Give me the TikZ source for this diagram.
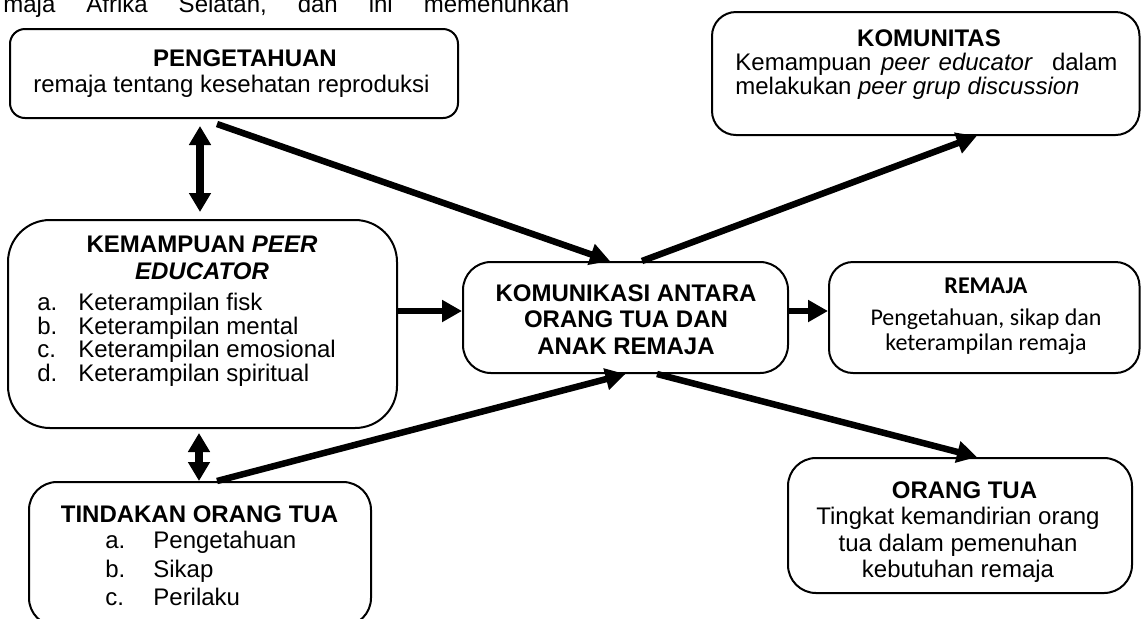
\documentclass[tikz,border=0pt]{standalone}
\usepackage{fontspec}
\setmainfont{Liberation Sans}
\newfontfamily\calibrifont{Carlito}
\usepackage{tikz}
\usetikzlibrary{arrows.meta,calc,fit}
\tikzset{
  framebox/.style={rectangle, draw=black, line width=1pt, inner sep=0pt},
  boxtext/.style={inner sep=0pt, align=center, anchor=north,
                  font=\fontsize{12}{13.5}\selectfont},
  listtext/.style={inner sep=0pt, align=left, anchor=north west,
                   font=\fontsize{12}{11.75}\selectfont},
  flowarrow/.style={-{Triangle[length=10pt,width=10.5pt]}, line width=3.25pt},
  dblarrow/.style={{Triangle[length=9.5pt,width=10.5pt]}-{Triangle[length=9.5pt,width=10.5pt]},
                   line width=4pt},
}

\begin{document}
\begin{tikzpicture}[x=0.5pt, y=-0.5pt]
    \useasboundingbox (0,0) rectangle (1141,618);
    \clip (0,0) rectangle (1141,618);
    % cut-off line of the page text above the figure
    \node[anchor=base west, inner sep=0pt, font=\fontsize{12}{13.5}\selectfont] (topline) at (3,12)
      {maja\hspace{15.5pt}Afrika\hspace{15.5pt}Selatan,\hspace{15.5pt}dan\hspace{15.5pt}ini\hspace{15.5pt}memenuhkan};
    % boxes
    \node[framebox, rounded corners=7.5pt, fit={(10,29) (458,118)}] (peng) {};
    \node[framebox, rounded corners=21pt, fit={(8,220) (397,428)}] (kem) {};
    \node[framebox, rounded corners=14pt, fit={(29,482) (371,626)}] (tind) {};
    \node[framebox, rounded corners=14pt, fit={(463,262) (788,373)}] (cen) {};
    \node[framebox, rounded corners=12pt, fit={(712,12) (1139.5,135)}] (kom) {};
    \node[framebox, rounded corners=12pt, fit={(829,262) (1139.5,373)}] (rem) {};
    \node[framebox, rounded corners=14pt, fit={(788,458) (1132,593)}] (ort) {};
    % texts
    \node[boxtext, font=\fontsize{12}{13}\selectfont] (pengText) at (231.5,49)
      {\hspace*{13.5pt}\textbf{PENGETAHUAN}\\remaja tentang kesehatan reproduksi};
    \node[boxtext, font=\fontsize{12}{13.5}\selectfont\bfseries] (kemTitle) at (202,236)
      {KEMAMPUAN \textit{PEER}\\\textit{EDUCATOR}};
    \node[listtext] (kemList) at (37,293)
      {\makebox[20.5pt][l]{a.}Keterampilan fisk\\
       \makebox[20.5pt][l]{b.}Keterampilan mental\\
       \makebox[20.5pt][l]{c.}Keterampilan emosional\\
       \makebox[20.5pt][l]{d.}Keterampilan spiritual};
    \node[boxtext] (tindTitle) at (199.5,505) {\textbf{TINDAKAN ORANG TUA}};
    \node[listtext, font=\fontsize{12}{14.25}\selectfont] (tindList) at (105,531)
      {\makebox[24pt][l]{a.}Pengetahuan\\
       \makebox[24pt][l]{b.}Sikap\\
       \makebox[24pt][l]{c.}Perilaku};
    \node[boxtext, font=\fontsize{12}{13.25}\selectfont\bfseries] (cenText) at (626,284)
      {KOMUNIKASI ANTARA\\ORANG TUA DAN\\ANAK REMAJA};
    \node[boxtext] (komTitle) at (929,29) {\textbf{KOMUNITAS}};
    \node[listtext, text width=191pt, align=justify, font=\fontsize{12}{12}\selectfont] (komText) at (735,53)
      {Kemampuan \textit{peer educator}\ \ dalam\linebreak melakukan \textit{peer grup discussion}};
    \node[boxtext, font=\fontsize{12}{12.5}\selectfont\calibrifont] (remText) at (986,277.5)
      {\textbf{REMAJA}\\[3.5pt]Pengetahuan, sikap dan\\keterampilan remaja};
    \node[boxtext, font=\fontsize{12}{13.3}\selectfont] (ortText) at (958,481)
      {\hspace*{6.5pt}\textbf{ORANG TUA}\\Tingkat kemandirian orang\\tua dalam pemenuhan\\kebutuhan remaja};
    % connectors
    \draw[dblarrow] ($(peng.south)+(-34,7)$) -- ($(kem.north)+(-2.5,-7)$);
    \draw[dblarrow] ($(kem.south)+(-3.5,4)$) -- ($(tind.north)+(-1,0)$);
    \draw[flowarrow] ($(peng.south)+(-17,5)$) -- ($(cen.north)+(-15.5,0)$);
    \draw[flowarrow] ($(cen.north)+(16.5,0)$) -- ($(kom.south)+(51,0)$);
    \draw[flowarrow] ($(kem.east)+(0,-13)$) -- ($(cen.west)+(0,-6.5)$);
    \draw[flowarrow] ($(tind.north)+(17,0)$) -- (cen.south);
    \draw[flowarrow] ($(cen.east)+(0,-6.5)$) -- ($(rem.west)+(0,-6.5)$);
    \draw[flowarrow] ($(cen.south)+(31.5,0)$) -- ($(ort.north)+(17,0)$);
\end{tikzpicture}
\end{document}
